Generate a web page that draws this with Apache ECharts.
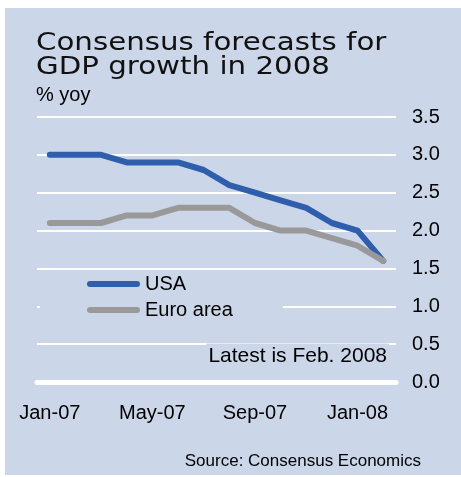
<!DOCTYPE html>
<html>
<head>
<meta charset="utf-8">
<script src="https://cdn.jsdelivr.net/npm/echarts@6/dist/echarts.min.js"></script>
<style>
html,body{margin:0;padding:0;background:#fff;}
#c{width:461px;height:477px;}
</style>
</head>
<body>
<div id="c"></div>
<script>
const categories = ['Jan-07','Feb-07','Mar-07','Apr-07','May-07','Jun-07','Jul-07','Aug-07','Sep-07','Oct-07','Nov-07','Dec-07','Jan-08','Feb-08'];
const usa  = [3.0,3.0,3.0,2.9,2.9,2.9,2.8,2.6,2.5,2.4,2.3,2.1,2.0,1.6];
const euro = [2.1,2.1,2.1,2.2,2.2,2.3,2.3,2.3,2.1,2.0,2.0,1.9,1.8,1.6];
const seriesNames = ['USA','Euro area'];
const titleLines = ['Consensus forecasts for','GDP growth in 2008'];
const unitLabel = '% yoy';
const noteText = 'Latest is Feb. 2008';
const sourceText = 'Source: Consensus Economics';

const PANEL = '#CBD6E8';
const FONT = '"Liberation Sans", Arial, sans-serif';

const chart = echarts.init(document.getElementById('c'), null, {renderer:'canvas'});
chart.setOption({
  animation:false,
  backgroundColor:'#fff',
  graphic:[
    {type:'rect', z:-10, shape:{x:5,y:8,width:456,height:467}, style:{fill:PANEL}},
    {type:'text', x:36, y:44, scaleX:1.22, z:5, style:{text:titleLines[0], fontFamily:'"DejaVu Sans"', fontSize:24, fill:'#111', align:'left', verticalAlign:'middle'}},
    {type:'text', x:36, y:68, scaleX:1.22, z:5, style:{text:titleLines[1], fontFamily:'"DejaVu Sans"', fontSize:24, fill:'#111', align:'left', verticalAlign:'middle'}},
    {type:'text', x:36, y:95, z:5, style:{text:unitLabel, fontFamily:FONT, fontSize:20, fill:'#000', align:'left', verticalAlign:'middle'}},
    {type:'text', x:389, y:356, z:5, style:{text:noteText, fontFamily:FONT, fontSize:21, fill:'#000', align:'right', verticalAlign:'middle', backgroundColor:PANEL, padding:[2,2,2,2]}},
    {type:'text', x:421, y:461, z:5, style:{text:sourceText, fontFamily:FONT, fontSize:17, fill:'#000', align:'right', verticalAlign:'middle'}}
  ],
  legend:{
    orient:'vertical',
    left:40, top:271,
    padding:[3,50,3,47],
    backgroundColor:PANEL,
    itemWidth:53, itemHeight:6,
    itemGap:6,
    icon:'path://M3,0H50A3,3 0 0 1 50,6H3A3,3 0 0 1 3,0Z',
    textStyle:{fontFamily:FONT, fontSize:20, color:'#000', padding:[7,0,0,0]},
    data:seriesNames
  },
  grid:{left:37, right:65, top:117, bottom:95, containLabel:false},
  xAxis:{
    type:'category',
    data:categories,
    boundaryGap:true,
    axisLine:{show:true, lineStyle:{color:'#fff', width:5, cap:'round'}},
    axisTick:{show:false},
    axisLabel:{interval:3, margin:21, fontFamily:FONT, fontSize:20, color:'#000'},
    splitLine:{show:false}
  },
  yAxis:{
    type:'value',
    position:'right',
    min:0, max:3.5, interval:0.5,
    axisLine:{show:false},
    axisTick:{show:false},
    axisLabel:{margin:16, fontFamily:FONT, fontSize:20, color:'#000', formatter:v=>v.toFixed(1)},
    splitLine:{show:true, lineStyle:{color:'#fff', width:2}}
  },
  series:[
    {name:seriesNames[0], type:'line', data:usa, showSymbol:false, symbol:'none', color:'#2F5EAC',
     lineStyle:{width:6, color:'#2F5EAC', cap:'round', join:'round'}},
    {name:seriesNames[1], type:'line', data:euro, showSymbol:false, symbol:'none', color:'#9A9999',
     lineStyle:{width:6, color:'#9A9999', cap:'round', join:'round'}}
  ]
});
</script>
</body>
</html>
